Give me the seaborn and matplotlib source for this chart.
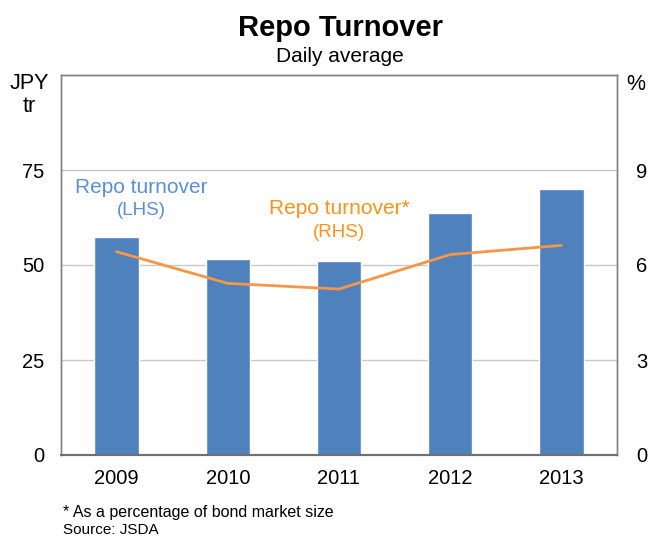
import matplotlib
matplotlib.use("Agg")
import matplotlib.pyplot as plt
import seaborn as sns
import pandas as pd

years = ["2009", "2010", "2011", "2012", "2013"]
turnover_jpy_tr = [57.3, 51.5, 51.1, 63.8, 69.9]
turnover_pct = [6.42, 5.42, 5.24, 6.33, 6.62]

left_ticks = [0, 25, 50, 75]
right_ticks = [0, 3, 6, 9]

sns.set_theme(style="white")
plt.rcParams["font.family"] = ["Liberation Sans", "DejaVu Sans"]
plt.rcParams["text.color"] = "black"

BAR = "#4F81BD"
LINE = "#F79646"
BLUE_TXT = "#5B8FD6"
ORANGE_TXT = "#F7941D"
GRID = "#C8C8C8"

df = pd.DataFrame({"year": years, "jpy": turnover_jpy_tr, "pct": turnover_pct})

fig = plt.figure(figsize=(6.49, 5.37), dpi=100)
ax = fig.add_axes([61 / 649, 1 - 455 / 537, 556 / 649, 380 / 537])

sns.barplot(data=df, x="year", y="jpy", color=BAR, saturation=1, width=0.4,
            ax=ax, zorder=2)
ax.set_xlim(-0.5, 4.5)
ax.set_ylim(0, 100)
ax.set_yticks(left_ticks)
ax.set_xlabel("")
ax.set_ylabel("")
for y in left_ticks[1:]:
    ax.axhline(y, color=GRID, lw=1, zorder=0)

ax2 = ax.twinx()
sns.lineplot(x=list(range(len(years))), y=df["pct"], color=LINE, lw=2, ax=ax2)
ax2.set_ylim(0, 12)
ax2.set_yticks(right_ticks)
ax2.set_ylabel("")

for a in (ax, ax2):
    for s in ("left", "right", "top"):
        a.spines[s].set_color("#808080")
        a.spines[s].set_linewidth(1)
    a.spines["bottom"].set_color("#707070")
    a.spines["bottom"].set_linewidth(1.5)

TICK_FS = 14.5
ax.tick_params(axis="y", length=0, labelsize=TICK_FS, pad=12, colors="black")
ax2.tick_params(axis="y", length=0, labelsize=TICK_FS, pad=14, colors="black")
ax.tick_params(axis="x", which="major", length=0, labelsize=TICK_FS, pad=10, colors="black")
ax.set_xticks([0.5, 1.5, 2.5, 3.5], minor=True)
ax.tick_params(axis="x", which="minor", direction="in", length=6, width=1, color="#707070")

fig.text(340 / 649, 1 - 28 / 537, "Repo Turnover", ha="center", va="center",
         fontsize=21, fontweight="bold")
fig.text(340 / 649, 1 - 56 / 537, "Daily average", ha="center", va="center", fontsize=15)
fig.text(29 / 649, 1 - 95 / 537, "JPY\ntr", ha="center", va="center", fontsize=15.5,
         linespacing=1.1)
fig.text(636 / 649, 1 - 84 / 537, "%", ha="center", va="center", fontsize=15.5)

ax.text(0.22, 70.5, "Repo turnover", color=BLUE_TXT, ha="center", va="center", fontsize=15)
ax.text(0.22, 64.3, "(LHS)", color=BLUE_TXT, ha="center", va="center", fontsize=13.5)
ax.text(2.0, 64.8, "Repo turnover*", color=ORANGE_TXT, ha="center", va="center", fontsize=15)
ax.text(2.0, 58.6, "(RHS)", color=ORANGE_TXT, ha="center", va="center", fontsize=13.5)

fig.text(63 / 649, 1 - 512 / 537, "* As a percentage of bond market size",
         ha="left", va="center", fontsize=11.5)
fig.text(63 / 649, 1 - 530 / 537, "Source: JSDA", ha="left", va="center", fontsize=11)

fig.savefig("out.png", dpi=100)
